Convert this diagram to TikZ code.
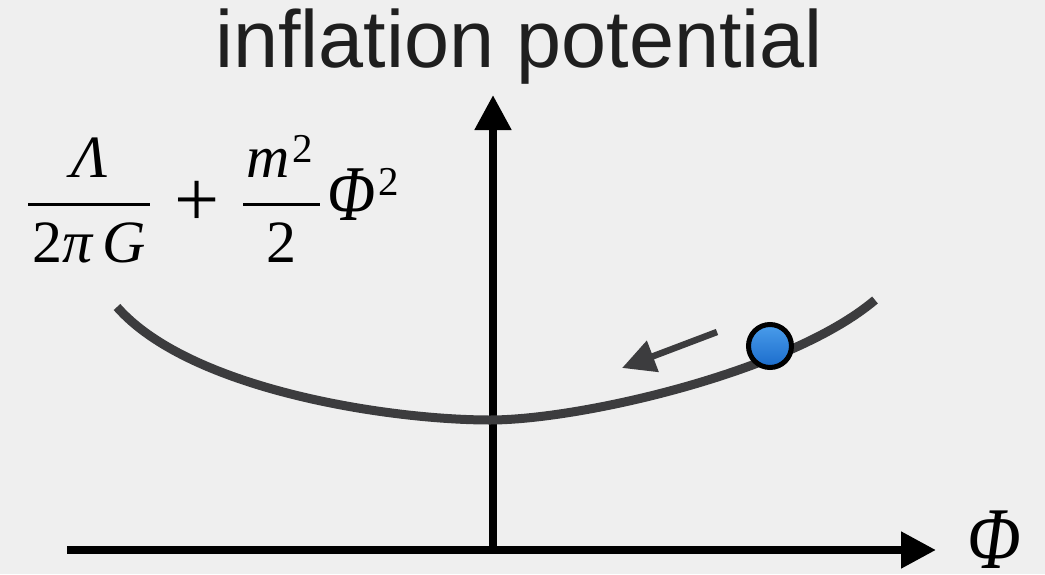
\documentclass[tikz,border=0pt]{standalone}
\usepackage{fontspec}
\setmainfont{Liberation Serif}
\newfontfamily\helv{Liberation Sans}
\newfontfamily\tms{Liberation Serif}
\usetikzlibrary{arrows.meta}
\definecolor{bg}{HTML}{EFEFEF}
\definecolor{curvecol}{HTML}{3C3C3E}
\definecolor{balltop}{HTML}{4A9DEB}
\definecolor{ballbot}{HTML}{1A6BCB}
\tikzset{
  axis/.style={line width=8pt, black, -{Triangle[length=35pt,width=35pt]}},
  potcurve/.style={line width=9pt, curvecol},
  motion/.style={line width=6.5pt, curvecol, -{Triangle[length=33pt,width=32pt]}},
  ballstyle/.style={circle, inner sep=0pt, minimum size=43pt, draw=black, line width=5pt, top color=balltop, bottom color=ballbot},
  mathtxt/.style={inner sep=0pt, anchor=base, font=\tms\fontsize{60}{66}\selectfont},
  suptxt/.style={inner sep=0pt, anchor=base, font=\tms\fontsize{41}{46}\selectfont},
  fracbar/.style={line width=3pt, black},
}
\begin{document}
\begin{tikzpicture}[x=1pt,y=-1pt]
\fill[bg] (0,0) rectangle (1045,574);
\useasboundingbox (0,0) rectangle (1045,574);
\node[font=\helv\fontsize{81}{90}\selectfont, anchor=base, text=black!88, inner sep=0pt] (title) at (519,67) {inflation potential};
% axes
\coordinate (xs) at (67,550);
\coordinate (xe) at (936,550);
\coordinate (ys) at (493,550);
\coordinate (ye) at (493,95);
\draw[axis] (xs) -- (xe);
\draw[axis] (ys) -- (ye);
\node[inner sep=0pt, anchor=base, font=\tms\itshape\fontsize{88}{95}\selectfont] (phi) at (994,568) {\scalebox{0.8}[1]{Φ}};
% potential
\coordinate (pl) at (117,307);
\coordinate (pm) at (490,420);
\coordinate (pr) at (875,300);
\draw[potcurve] (pl) .. controls (190,390) and (390,420) .. (pm)
                     .. controls (580,420) and (790,372) .. (pr);
% formula  Lambda/(2 pi G) + m^2/2 Phi^2
\node[mathtxt] (lam) at (90,177) {\itshape Λ};
\node[mathtxt] (den1) at (89,262) {2\itshape π\,G};
\coordinate (b1l) at (28,204);
\coordinate (b1r) at (150,204);
\draw[fracbar] (b1l) -- (b1r);
\node[inner sep=0pt, font=\tms\fontsize{80}{86}\selectfont] (plus) at (197,204) {+};
\node[mathtxt] (m) at (268,177) {\itshape m};
\node[suptxt] (msup) at (303,162) {2};
\coordinate (b2l) at (243,204);
\coordinate (b2r) at (320,204);
\draw[fracbar] (b2l) -- (b2r);
\node[mathtxt] (den2) at (281,262) {2};
\node[mathtxt, font=\tms\itshape\fontsize{79}{85}\selectfont] (phif) at (352,220) {\scalebox{0.8}[1]{Φ}};
\node[suptxt] (phisup) at (389,195) {2};
% ball and arrow
\node[ballstyle] (ball) at (770,346) {};
\coordinate (ma) at (717,332);
\coordinate (mb) at (622,368);
\draw[motion] (ma) -- (mb);
\end{tikzpicture}
\end{document}
